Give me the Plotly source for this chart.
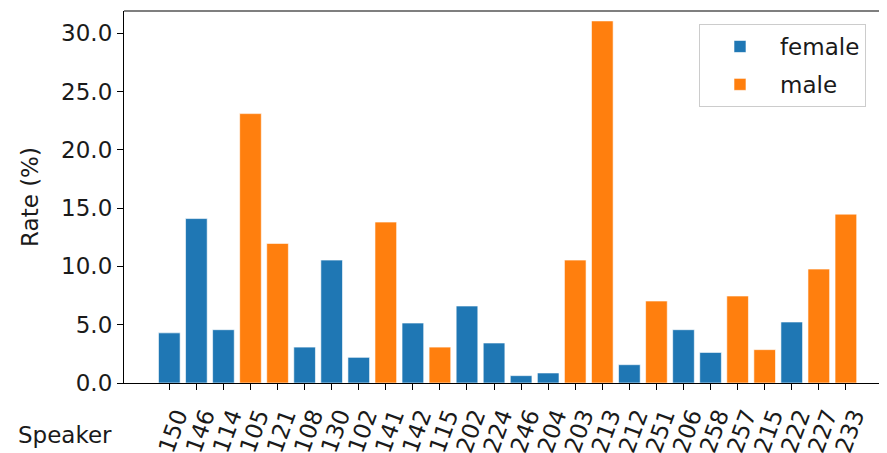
import plotly.graph_objects as go

speakers = ["150", "146", "114", "105", "121", "108", "130", "102", "141", "142", "115",
            "202", "224", "246", "204", "203", "213", "212", "251", "206", "258", "257",
            "215", "222", "227", "233"]
rates = [4.3, 14.1, 4.57, 23.1, 11.97, 3.08, 10.54, 2.2, 13.8, 5.14, 3.08,
         6.6, 3.43, 0.63, 0.86, 10.54, 31.05, 1.57, 7.03, 4.57, 2.62, 7.46,
         2.86, 5.23, 9.77, 14.48]
genders = ["female", "female", "female", "male", "male", "female", "female", "female", "male", "female", "male",
           "female", "female", "female", "female", "male", "male", "female", "male", "female", "female", "male",
           "male", "female", "male", "male"]

colors = {"female": "#1f77b4", "male": "#ff7f0e"}
FONT = "DejaVu Sans"

fig = go.Figure()
for g in ["female", "male"]:
    xs = [s for s, gg in zip(speakers, genders) if gg == g]
    ys = [r for r, gg in zip(rates, genders) if gg == g]
    fig.add_trace(go.Bar(x=xs, y=ys, name=g, width=0.8, legendgroup=g,
                         marker=dict(color=colors[g], line=dict(color="white", width=0.6))))

# page body has an 8px default margin, so the figure is sized to end at the window edge
fig.update_layout(
    width=879, height=445,
    margin=dict(l=116, r=0, t=3, b=70, autoexpand=False),
    barmode="overlay",
    plot_bgcolor="white", paper_bgcolor="white",
    font=dict(family=FONT, size=23, color="#1a1a1a"),
    showlegend=True,
    legend=dict(x=0.7536, y=0.965, xanchor="left", yanchor="top",
                bordercolor="#cccccc", borderwidth=1, bgcolor="white",
                font=dict(size=23), itemwidth=70, traceorder="grouped", tracegroupgap=5),
    xaxis=dict(type="category", categoryorder="array", categoryarray=speakers,
               tickmode="linear", tick0=0, dtick=1, automargin=False,
               range=[-1.674, 26.52], showline=True, linecolor="black", linewidth=1.2,
               ticks="outside", ticklen=6, tickcolor="black", tickangle=-70,
               ticklabelshift=8, ticklabelstandoff=3,
               showgrid=False, zeroline=False, tickfont=dict(size=23)),
    yaxis=dict(range=[0, 31.9], dtick=5, tickformat=".1f", showline=True, automargin=False,
               linecolor="black", linewidth=1.2, ticks="outside", ticklen=6,
               tickcolor="black", showgrid=False, zeroline=False,
               title=dict(text="Rate (%)", font=dict(size=23), standoff=16)),
    shapes=[dict(type="line", xref="paper", yref="paper", x0=0, x1=1, y0=1, y1=1,
                 line=dict(color="black", width=1.2))],
    annotations=[dict(text="Speaker", xref="paper", yref="paper", x=-0.0773, y=-0.14,
                      xanchor="center", yanchor="middle", showarrow=False,
                      font=dict(size=23))],
)

fig.write_html("out.html")
